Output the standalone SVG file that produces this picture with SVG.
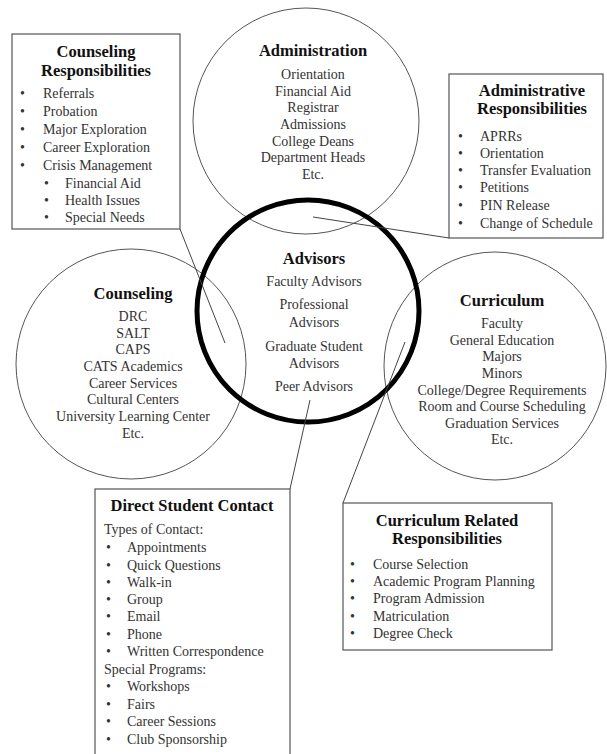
<svg xmlns="http://www.w3.org/2000/svg" width="607" height="754" viewBox="0 0 607 754">
  <style>
    text { font-family: "Liberation Serif", "Times New Roman", serif; fill: #333; }
    .t { font-size: 16.5px; font-weight: bold; text-anchor: middle; fill: #111; }
    .b { font-size: 14px; }
    .c { font-size: 14px; text-anchor: middle; }
    .ring { fill: none; stroke: #555; stroke-width: 1; }
    .box { fill: #fff; stroke: #555; stroke-width: 1.2; }
    .link { stroke: #444; stroke-width: 1; fill: none; }
  </style>
  <rect width="607" height="754" fill="#fff"/>

  <!-- area circles -->
  <g id="administration">
    <circle class="ring" cx="306" cy="121" r="113"/>
    <text class="t" x="313" y="56">Administration</text>
    <text class="c" x="313" y="79">Orientation</text>
    <text class="c" x="313" y="96">Financial Aid</text>
    <text class="c" x="313" y="112">Registrar</text>
    <text class="c" x="313" y="129">Admissions</text>
    <text class="c" x="313" y="146">College Deans</text>
    <text class="c" x="313" y="162">Department Heads</text>
    <text class="c" x="313" y="179">Etc.</text>
  </g>

  <g id="counseling">
    <circle class="ring" cx="131" cy="364" r="115"/>
    <text class="t" x="133" y="299">Counseling</text>
    <text class="c" x="133" y="321">DRC</text>
    <text class="c" x="133" y="338">SALT</text>
    <text class="c" x="133" y="354">CAPS</text>
    <text class="c" x="133" y="371">CATS Academics</text>
    <text class="c" x="133" y="388">Career Services</text>
    <text class="c" x="133" y="404">Cultural Centers</text>
    <text class="c" x="133" y="421">University Learning Center</text>
    <text class="c" x="133" y="438">Etc.</text>
  </g>

  <g id="curriculum">
    <ellipse class="ring" cx="495" cy="366" rx="111" ry="114"/>
    <text class="t" x="502" y="306">Curriculum</text>
    <text class="c" x="502" y="328">Faculty</text>
    <text class="c" x="502" y="345">General Education</text>
    <text class="c" x="502" y="361">Majors</text>
    <text class="c" x="502" y="378">Minors</text>
    <text class="c" x="502" y="395">College/Degree Requirements</text>
    <text class="c" x="502" y="411">Room and Course Scheduling</text>
    <text class="c" x="502" y="428">Graduation Services</text>
    <text class="c" x="502" y="444">Etc.</text>
  </g>

  <g id="advisors">
    <circle cx="308" cy="311" r="111" fill="none" stroke="#000" stroke-width="5"/>
    <text class="t" x="314" y="264">Advisors</text>
    <text class="c" x="314" y="286">Faculty Advisors</text>
    <text class="c" x="314" y="309">Professional</text>
    <text class="c" x="314" y="327">Advisors</text>
    <text class="c" x="314" y="351">Graduate Student</text>
    <text class="c" x="314" y="368">Advisors</text>
    <text class="c" x="314" y="391">Peer Advisors</text>
  </g>

  <!-- connectors from the responsibility boxes into the circles -->
  <g id="connectors">
    <line class="link" x1="180" y1="229" x2="225" y2="343"/>
    <line class="link" x1="449" y1="238" x2="313" y2="217"/>
    <line class="link" x1="405" y1="342" x2="343" y2="503"/>
    <line class="link" x1="310" y1="400" x2="290" y2="489"/>
  </g>

  <!-- responsibility boxes -->
  <g id="counseling-responsibilities">
    <rect class="box" x="12" y="34" width="168" height="195"/>
    <text class="t" x="96" y="57">Counseling</text>
    <text class="t" x="96" y="76">Responsibilities</text>
    <g class="b">
      <text x="20" y="98">•</text><text x="43" y="98">Referrals</text>
      <text x="20" y="116">•</text><text x="43" y="116">Probation</text>
      <text x="20" y="134">•</text><text x="43" y="134">Major Exploration</text>
      <text x="20" y="152">•</text><text x="43" y="152">Career Exploration</text>
      <text x="20" y="170">•</text><text x="43" y="170">Crisis Management</text>
      <text x="44" y="188">•</text><text x="65" y="188">Financial Aid</text>
      <text x="44" y="205">•</text><text x="65" y="205">Health Issues</text>
      <text x="44" y="222">•</text><text x="65" y="222">Special Needs</text>
    </g>
  </g>

  <g id="administrative-responsibilities">
    <rect class="box" x="449" y="74" width="154" height="164"/>
    <text class="t" x="532" y="96">Administrative</text>
    <text class="t" x="532" y="114">Responsibilities</text>
    <g class="b">
      <text x="458" y="141">•</text><text x="480" y="141">APRRs</text>
      <text x="458" y="158">•</text><text x="480" y="158">Orientation</text>
      <text x="458" y="175">•</text><text x="480" y="175">Transfer Evaluation</text>
      <text x="458" y="192">•</text><text x="480" y="192">Petitions</text>
      <text x="458" y="210">•</text><text x="480" y="210">PIN Release</text>
      <text x="458" y="228">•</text><text x="480" y="228">Change of Schedule</text>
    </g>
  </g>

  <g id="direct-student-contact">
    <rect class="box" x="95" y="489" width="195" height="280"/>
    <text class="t" x="192" y="511">Direct Student Contact</text>
    <g class="b">
      <text x="104" y="534">Types of Contact:</text>
      <text x="106" y="552">•</text><text x="127" y="552">Appointments</text>
      <text x="106" y="570">•</text><text x="127" y="570">Quick Questions</text>
      <text x="106" y="587">•</text><text x="127" y="587">Walk-in</text>
      <text x="106" y="604">•</text><text x="127" y="604">Group</text>
      <text x="106" y="621">•</text><text x="127" y="621">Email</text>
      <text x="106" y="639">•</text><text x="127" y="639">Phone</text>
      <text x="106" y="656">•</text><text x="127" y="656">Written Correspondence</text>
      <text x="104" y="674">Special Programs:</text>
      <text x="106" y="691">•</text><text x="127" y="691">Workshops</text>
      <text x="106" y="709">•</text><text x="127" y="709">Fairs</text>
      <text x="106" y="726">•</text><text x="127" y="726">Career Sessions</text>
      <text x="106" y="744">•</text><text x="127" y="744">Club Sponsorship</text>
    </g>
  </g>

  <g id="curriculum-related-responsibilities">
    <rect class="box" x="343" y="503" width="209" height="147"/>
    <text class="t" x="447" y="526">Curriculum Related</text>
    <text class="t" x="447" y="544">Responsibilities</text>
    <g class="b">
      <text x="350" y="569">•</text><text x="373" y="569">Course Selection</text>
      <text x="350" y="586">•</text><text x="373" y="586">Academic Program Planning</text>
      <text x="350" y="603">•</text><text x="373" y="603">Program Admission</text>
      <text x="350" y="621">•</text><text x="373" y="621">Matriculation</text>
      <text x="350" y="638">•</text><text x="373" y="638">Degree Check</text>
    </g>
  </g>
</svg>
